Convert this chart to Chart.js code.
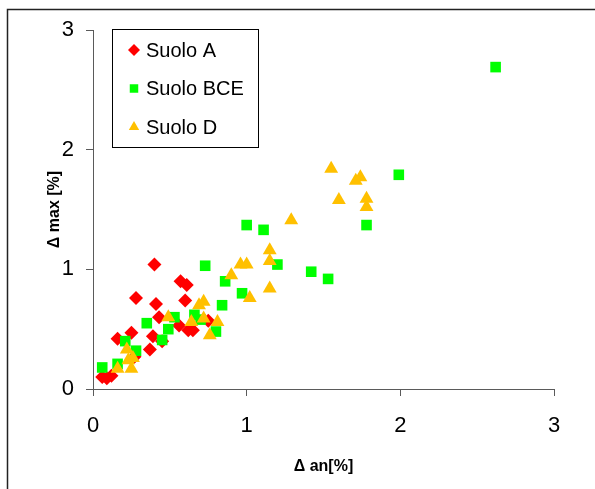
<!DOCTYPE html>
<html>
<head>
<meta charset="utf-8">
<script src="https://cdn.jsdelivr.net/npm/chart.js@4.4.1/dist/chart.umd.min.js"></script>
<style>
  body { margin: 0; background: #fff; }
  canvas { display: block; }
</style>
</head>
<body>
<canvas id="scatter" width="595" height="489"></canvas>
<script>
// series values: Δ an[%] (x) and Δ max [%] (y)
const suoloA_x = [0.06, 0.09, 0.12, 0.16, 0.25, 0.27, 0.28, 0.37, 0.39, 0.40, 0.41, 0.43, 0.45, 0.56, 0.57, 0.60, 0.61, 0.62, 0.65, 0.75];
const suoloA_y = [0.10, 0.09, 0.11, 0.42, 0.47, 0.27, 0.76, 0.33, 0.44, 1.04, 0.71, 0.60, 0.40, 0.53, 0.90, 0.74, 0.87, 0.49, 0.49, 0.57];

const suoloBCE_x = [0.06, 0.16, 0.21, 0.28, 0.35, 0.45, 0.49, 0.53, 0.66, 0.70, 0.73, 0.80, 0.84, 0.86, 0.97, 1.00, 1.11, 1.20, 1.42, 1.53, 1.78, 1.99, 2.62];
const suoloBCE_y = [0.18, 0.21, 0.40, 0.32, 0.55, 0.41, 0.50, 0.60, 0.62, 0.58, 1.03, 0.48, 0.70, 0.90, 0.80, 1.37, 1.33, 1.04, 0.98, 0.92, 1.37, 1.79, 2.69];

const suoloD_x = [0.16, 0.22, 0.23, 0.26, 0.25, 0.49, 0.64, 0.69, 0.72, 0.72, 0.76, 0.81, 0.90, 0.96, 1.00, 1.02, 1.15, 1.15, 1.15, 1.29, 1.55, 1.60, 1.71, 1.74, 1.78, 1.78];
const suoloD_y = [0.17, 0.33, 0.24, 0.26, 0.17, 0.60, 0.56, 0.70, 0.73, 0.59, 0.45, 0.56, 0.95, 1.04, 1.04, 0.76, 0.84, 1.07, 1.16, 1.41, 1.84, 1.58, 1.74, 1.77, 1.59, 1.52];

const seriesNames = ["Suolo A", "Suolo BCE", "Suolo D"];
const axisTicks = [0, 1, 2, 3];

const FONT = '"Liberation Sans", Arial, sans-serif';
const AXIS_GREY = "#5a5a5a";

const toPoints = (xs, ys) => xs.map((x, i) => ({ x: x, y: ys[i] }));

// outer frame of the chart object
const frame = {
  id: "frame",
  beforeDraw(chart) {
    const ctx = chart.ctx;
    ctx.save();
    ctx.fillStyle = "#fff";
    ctx.fillRect(0, 0, chart.width, chart.height);
    ctx.strokeStyle = "#222";
    ctx.lineWidth = 1.5;
    ctx.strokeRect(7.5, 9.5, 800, 800);
    ctx.restore();
  },
};

// boxed legend drawn inside the plot area
const legendBox = {
  id: "legendBox",
  afterDraw(chart) {
    const ctx = chart.ctx;
    ctx.save();
    ctx.strokeStyle = "#000";
    ctx.lineWidth = 1;
    ctx.strokeRect(112.5, 29.5, 146, 118);
    ctx.font = "20px " + FONT;
    ctx.textBaseline = "middle";
    chart.data.datasets.forEach((ds, i) => {
      const y = 50 + i * 38.5;
      ctx.fillStyle = ds.backgroundColor;
      Chart.helpers.drawPoint(ctx, {
        pointStyle: ds.pointStyle,
        radius: 6,
        rotation: 0,
        borderWidth: 0,
      }, 134, y);
      ctx.fillStyle = "#000";
      ctx.fillText(ds.label, 146, y + 1);
    });
    ctx.restore();
  },
};

new Chart(document.getElementById("scatter"), {
  type: "scatter",
  data: {
    datasets: [
      {
        label: seriesNames[0],
        data: toPoints(suoloA_x, suoloA_y),
        pointStyle: "rectRot",
        pointRadius: 7,
        backgroundColor: "#ff0000",
        borderWidth: 0,
        order: 3,
      },
      {
        label: seriesNames[1],
        data: toPoints(suoloBCE_x, suoloBCE_y),
        pointStyle: "rect",
        pointRadius: 7.5,
        backgroundColor: "#00ff00",
        borderWidth: 0,
        order: 2,
      },
      {
        label: seriesNames[2],
        data: toPoints(suoloD_x, suoloD_y),
        pointStyle: "triangle",
        pointRadius: 8,
        backgroundColor: "#ffc000",
        borderWidth: 0,
        order: 1,
      },
    ],
  },
  options: {
    responsive: false,
    animation: false,
    layout: { padding: { top: 30, right: 41, left: 0, bottom: 0 } },
    plugins: {
      legend: { display: false },
      tooltip: { enabled: false },
    },
    scales: {
      x: {
        type: "linear",
        min: 0,
        max: 3,
        afterBuildTicks: (scale) => {
          scale.ticks = axisTicks.map((v) => ({ value: v }));
        },
        afterFit: (scale) => {
          scale.height = 100;
        },
        ticks: {
          color: "#000",
          font: { family: FONT, size: 22 },
          padding: 17,
        },
        grid: {
          drawOnChartArea: false,
          color: AXIS_GREY,
          tickLength: 7,
        },
        border: { display: true, color: AXIS_GREY, width: 1 },
        title: {
          display: true,
          text: "Δ an[%]",
          color: "#000",
          font: { family: FONT, size: 16, weight: "bold" },
          padding: { top: 0, bottom: 13 },
        },
      },
      y: {
        type: "linear",
        min: 0,
        max: 3,
        afterBuildTicks: (scale) => {
          scale.ticks = axisTicks.map((v) => ({ value: v }));
        },
        afterFit: (scale) => {
          scale.width = 93;
        },
        ticks: {
          color: "#000",
          font: { family: FONT, size: 22 },
          padding: 12,
        },
        grid: {
          drawOnChartArea: false,
          color: AXIS_GREY,
          tickLength: 7,
        },
        border: { display: true, color: AXIS_GREY, width: 1 },
        title: {
          display: true,
          text: "Δ max [%]",
          color: "#000",
          font: { family: FONT, size: 16, weight: "bold" },
          padding: { top: 45, bottom: 0 },
        },
      },
    },
  },
  plugins: [frame, legendBox],
});
</script>
</body>
</html>
